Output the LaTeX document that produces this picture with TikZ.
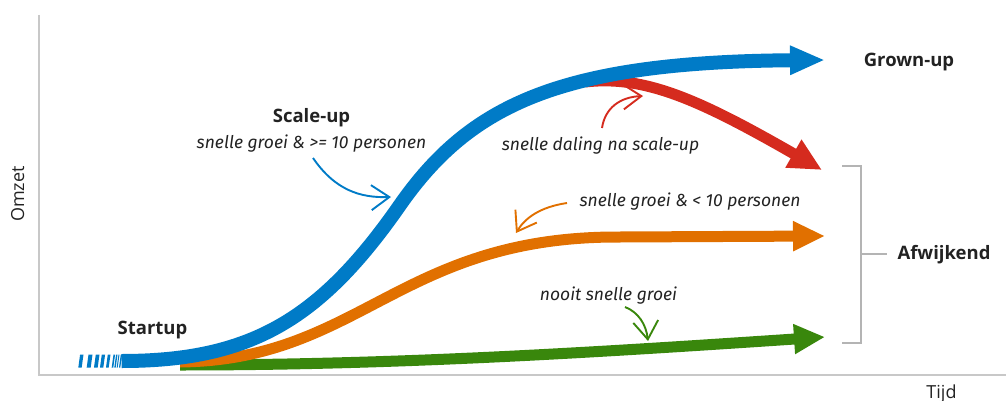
\documentclass[tikz,border=0pt]{standalone}
\usepackage{fontspec}
\setmainfont{Open Sans}
\newfontfamily\notefont{Fira Sans}
\usetikzlibrary{arrows.meta}
\definecolor{rblue}{HTML}{007BC7}
\definecolor{rred}{HTML}{D52B1E}
\definecolor{rorange}{HTML}{E17000}
\definecolor{rgreen}{HTML}{39870C}
\definecolor{txt}{HTML}{222222}
\definecolor{axisgray}{HTML}{C8C8C8}
\definecolor{brgray}{HTML}{B4B4B4}
\begin{document}
\begin{tikzpicture}[x=1pt,y=-1pt,
  curve/.style={line width=#1, line cap=butt},
  note/.style={line width=1.9pt, -{Straight Barb[length=18pt,width=25pt,line width=1.9pt]}},
  lbl/.style={text=txt, font=\notefont\fontsize{17.5}{20}\selectfont\itshape, inner sep=0pt, anchor=base},
  head/.style={text=txt, font=\fontsize{18.5}{21}\selectfont\bfseries, inner sep=0pt, anchor=base},
  axlbl/.style={text=txt, font=\fontsize{18}{20}\selectfont, inner sep=0pt, anchor=base}]
\useasboundingbox (0,0) rectangle (1006,401);

% axes
\coordinate (ytop) at (39,15);
\coordinate (orig) at (39,375);
\coordinate (xend) at (1006,375);
\draw[axisgray, line width=1.8pt] (ytop) -- (orig) -- (xend);
\node[axlbl, rotate=90] (omzet) at (24,194) {Omzet};
\node[axlbl] (tijd) at (941.5,398) {Tijd};

% growth curves
\coordinate (g0) at (180,365);
\coordinate (g1) at (825,337);
\draw[rgreen, curve=11pt, -{Triangle[length=31pt,width=28pt]}]
  (g0) .. controls (400,365) and (600,352) .. (g1);

\coordinate (o0) at (180,362);
\coordinate (om) at (620,237);
\coordinate (o1) at (825,236);
\draw[rorange, curve=11pt, -{Triangle[length=32pt,width=28pt]}]
  (o0) .. controls (360,360) and (400,236) .. (om) -- (o1);

\coordinate (r0) at (585,82);
\coordinate (r1) at (822,170);
\draw[rred, curve=11pt, -{Triangle[length=33pt,width=30pt]}]
  (r0) .. controls (645,75) and (700,100) .. (r1);

\coordinate (b0) at (121.5,361);
\coordinate (bm) at (400,205);
\coordinate (b1) at (825,60);
\draw[rblue, curve=14pt, -{Triangle[length=35pt,width=27pt]}]
  (b0) .. controls (250,361) and (320,320) .. (bm)
       .. controls (470,105) and (560,62) .. (b1);

% fading dashes at the start of the blue curve
\foreach \a/\b in {78.3/81.7, 86.7/90.7, 94/97.7, 100/103.3, 106/108.7,
                   111.7/113.3, 114.3/115.7, 116.7/117.7, 119/120.3}
  \fill[rblue] (\a,367.5) -- (\b,367.5) -- (\b+1.8,354.5) -- (\a+1.8,354.5) -- cycle;

% labels
\node[head] (startup) at (152.5,334) {Startup};
\node[head] (scaleup) at (311.5,122.5) {Scale-up};
\node[lbl] (scalenote) at (311.5,148) {snelle groei \& >= 10 personen};
\node[head] (grown) at (909,67) {Grown-up};
\node[lbl] (rednote) at (600.5,150) {snelle daling na scale-up};
\node[lbl] (orangenote) at (690,206) {snelle groei \& < 10 personen};
\node[lbl] (greennote) at (608.5,300.5) {nooit snelle groei};
\node[head] (afw) at (944,259) {Afwijkend};

% pointer arrows
\coordinate (sa0) at (313,158);
\coordinate (sa1) at (391,197);
\draw[rblue, note] (sa0) .. controls (335,190) and (360,198) .. (sa1);

\coordinate (ra0) at (602,128);
\coordinate (ra1) at (643,96);
\draw[rred, note] (ra0) .. controls (605,108) and (620,97) .. (ra1);

\coordinate (oa0) at (567,203);
\coordinate (oa1) at (516,233);
\draw[rorange, note] (oa0) .. controls (540,207) and (525,218) .. (oa1);

\coordinate (ga0) at (625,307);
\coordinate (ga1) at (648,341);
\draw[rgreen, note] (ga0) .. controls (638,312) and (646,324) .. (ga1);

% bracket grouping the deviating curves
\coordinate (bt0) at (842,166);
\coordinate (bt1) at (861,166);
\coordinate (bb0) at (842,343);
\coordinate (bb1) at (861,343);
\coordinate (bmid) at (861,254);
\coordinate (bmid1) at (887,254);
\draw[brgray, line width=1.4pt] (bt0) -- (bt1) -- (bb1) -- (bb0);
\draw[brgray, line width=1.4pt] (bmid) -- (bmid1);
\end{tikzpicture}
\end{document}
